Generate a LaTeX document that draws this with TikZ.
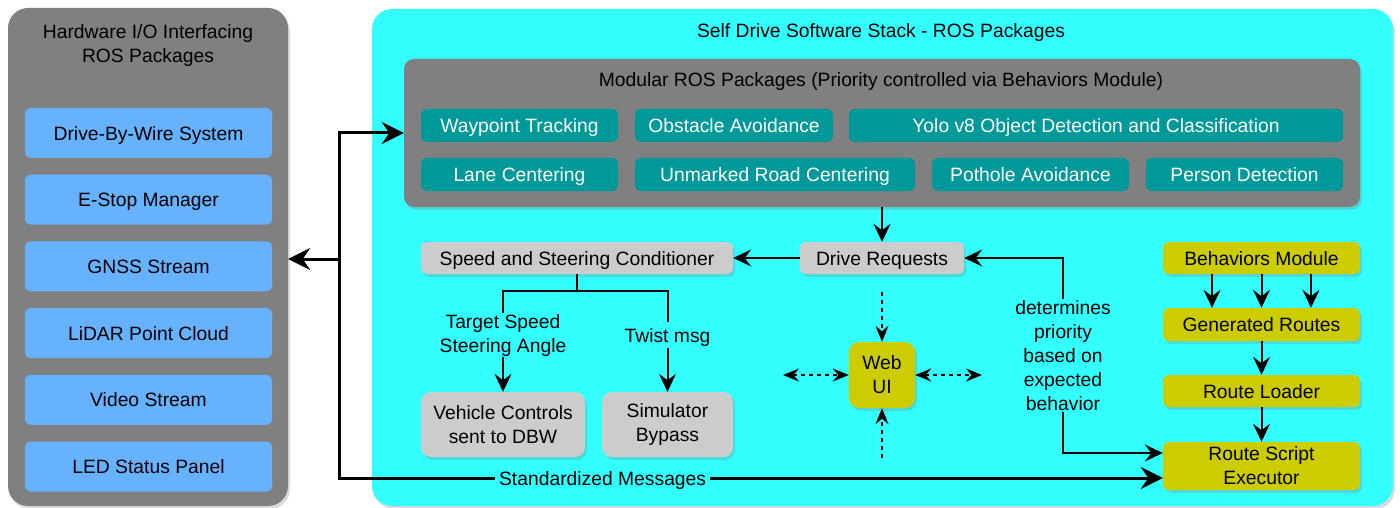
\documentclass[tikz,border=0pt]{standalone}
\usepackage{fontspec}
\setmainfont{Liberation Sans}
\usetikzlibrary{arrows.meta,shadows,calc}

\definecolor{panelgray}{HTML}{808080}
\definecolor{stackcyan}{HTML}{33FFFF}
\definecolor{iofill}{HTML}{66B2FF}
\definecolor{pkgfill}{HTML}{009999}
\definecolor{greyfill}{HTML}{CCCCCC}
\definecolor{routefill}{HTML}{CCCC00}

\tikzset{
  thinhead/.tip={Stealth[length=18pt,width=17pt,inset=6.5pt]},
  bighead/.tip={Stealth[length=22pt,width=22pt,inset=7.5pt]},
  dashhead/.tip={Stealth[length=16pt,width=13pt,inset=5.5pt]},
  softshadow/.style={drop shadow={opacity=0.28,shadow xshift=2pt,shadow yshift=-3pt}},
  panel/.style={rounded corners=20pt, inner sep=0pt, softshadow},
  oneline/.style={text height=14pt, text depth=0pt},
  box/.style={rounded corners=6pt, inner sep=0pt, align=center, softshadow},
  hwbox/.style={box, oneline, fill=iofill, minimum width=247pt, minimum height=50pt},
  pkgbox/.style={box, oneline, fill=pkgfill, text=white, minimum height=33pt},
  greybox/.style={box, fill=greyfill},
  routebox/.style={box, fill=routefill},
  wire/.style={line width=2pt},
  bus/.style={line width=3pt},
  uilink/.style={line width=2pt, dash pattern=on 4pt off 4pt},
  lbl/.style={fill=stackcyan, inner xsep=4pt, inner ysep=1pt, align=center},
}

\begin{document}
\begin{tikzpicture}[x=1pt,y=-1pt,font=\fontsize{19.3}{24}\selectfont]
\useasboundingbox (0,0) rectangle (1400,508);

% hardware interface column
\node[panel, fill=panelgray, minimum width=280pt, minimum height=498pt] (hw) at (148,257) {};
\node[align=center] (hwtitle) at (148,46) {Hardware I/O Interfacing\\ROS Packages};
\foreach \n/\t [count=\i from 0] in {dbw/Drive-By-Wire System, estop/E-Stop Manager,
    gnss/GNSS Stream, lidar/LiDAR Point Cloud, video/Video Stream, led/LED Status Panel}
  \node[hwbox] (\n) at (148.5,{133+66.7*\i}) {\t};

% software stack
\node[panel, fill=stackcyan, minimum width=1021pt, minimum height=497pt] (sw) at (882.5,257.5) {};
\node[oneline] (swtitle) at (881,31) {Self Drive Software Stack - ROS Packages};

\node[panel, rounded corners=10pt, fill=panelgray, minimum width=956pt, minimum height=148pt] (mod) at (882,133) {};
\node[oneline] (modtitle) at (881,80) {Modular ROS Packages (Priority controlled via Behaviors Module)};

\node[pkgbox, minimum width=197pt] (wp)   at (519.5,125.5) {Waypoint Tracking};
\node[pkgbox, minimum width=198pt] (oa)   at (734,125.5)   {Obstacle Avoidance};
\node[pkgbox, minimum width=494pt] (yolo) at (1096,125.5)  {Yolo v8 Object Detection and Classification};
\node[pkgbox, minimum width=197pt] (lc)   at (519.5,174.5) {Lane Centering};
\node[pkgbox, minimum width=280pt] (urc)  at (775,174.5)   {Unmarked Road Centering};
\node[pkgbox, minimum width=197pt] (ph)   at (1030.5,174.5){Pothole Avoidance};
\node[pkgbox, minimum width=197pt] (pd)   at (1244.5,174.5){Person Detection};

% control chain
\node[greybox, oneline, minimum width=312pt, minimum height=32pt] (ssc) at (577,258) {Speed and Steering Conditioner};
\node[greybox, oneline, minimum width=164pt, minimum height=32pt] (dr)  at (882,258) {Drive Requests};
\node[greybox, rounded corners=10pt, minimum width=164pt, minimum height=65pt] (vc) at (503,424.5) {Vehicle Controls\\sent to DBW};
\node[greybox, rounded corners=10pt, minimum width=131pt, minimum height=65pt] (sb) at (667.5,424.5) {Simulator\\Bypass};

\node[routebox, rounded corners=10pt, minimum width=66pt, minimum height=66pt] (web) at (882,375) {Web\\UI};

% route pipeline
\node[routebox, oneline, minimum width=197pt, minimum height=32pt] (bm)  at (1261.5,258)   {Behaviors Module};
\node[routebox, oneline, minimum width=197pt, minimum height=33pt] (gr)  at (1261.5,324.5) {Generated Routes};
\node[routebox, oneline, minimum width=197pt, minimum height=32pt] (rl)  at (1261.5,391)   {Route Loader};
\node[routebox, minimum width=197pt, minimum height=48pt] (rse) at (1261.5,466)   {Route Script\\Executor};

% message bus
\coordinate (bustop) at (339,133);
\coordinate (busmid) at (339,259);
\coordinate (busbot) at (339,478);
\draw[bus, {bighead}-{bighead}] (mod.west) -- (bustop) -- (busbot)
  -- node[lbl, oneline, inner ysep=5pt, pos=0.32] {Standardized Messages} (rse.west |- busbot);
\draw[bus, -{bighead}] (busmid) -- (hw.east |- busmid);

% drive request flow
\draw[wire, -{thinhead}] (mod.south) -- (dr.north);
\draw[wire, -{thinhead}] (dr.west) -- (ssc.east);
\coordinate (split) at (577,291);
\draw[wire] (ssc.south) -- (split);
\draw[wire, -{thinhead}] (split) -| node[lbl, pos=0.72] {Target Speed\\Steering Angle} (vc.north);
\draw[wire, -{thinhead}] (split) -| node[lbl, oneline, inner ysep=6pt, pos=0.72] {Twist msg} (sb.north);

% priority link
\coordinate (prio) at (1063,453);
\draw[wire, {thinhead}-{thinhead}] (dr.east) -| node[lbl, pos=0.75]
  {determines\\priority\\based on\\expected\\behavior} (prio) -- (rse.west |- prio);

% routes
\foreach \dx in {-49.5,0,49.5}
  \draw[wire, -{thinhead}] ([xshift=\dx pt]bm.south) -- ([xshift=\dx pt]gr.north);
\draw[wire, -{thinhead}] (gr.south) -- (rl.north);
\draw[wire, -{thinhead}] (rl.south) -- (rse.north);

% web UI links
\coordinate (uitop) at (882,292);
\coordinate (uibot) at (882,458);
\coordinate (uileft) at (783,375);
\coordinate (uiright) at (982,375);
\draw[uilink, -{dashhead}] (uitop) -- (web.north);
\draw[uilink, -{dashhead}] (uibot) -- (web.south);
\draw[uilink, {dashhead}-{dashhead}] (uileft) -- (web.west);
\draw[uilink, {dashhead}-{dashhead}] (web.east) -- (uiright);
\end{tikzpicture}
\end{document}
